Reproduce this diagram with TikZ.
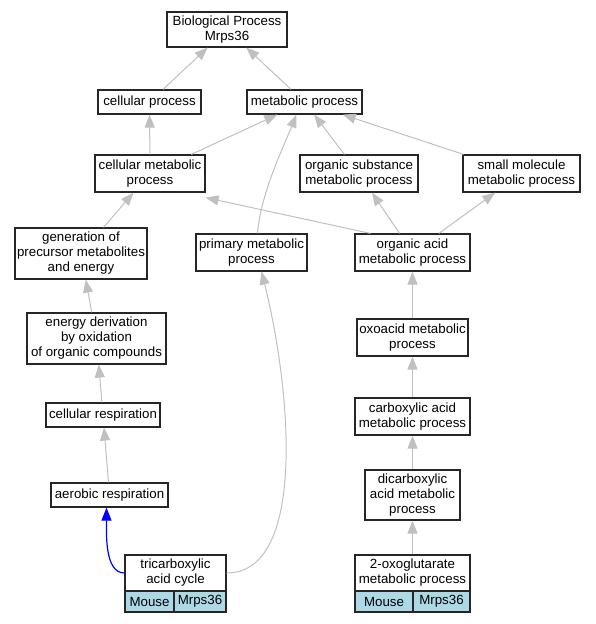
\documentclass[tikz,border=0pt]{standalone}
\usepackage{fontspec}
\setmainfont{Liberation Sans}
\usetikzlibrary{arrows.meta}
\definecolor{edgegray}{HTML}{C0C0C0}
\definecolor{cellblue}{HTML}{ADD8E6}
\begin{document}
\begin{tikzpicture}[x=1pt,y=-1pt,
  box/.style={draw=black!85,line width=1.2pt,fill=white,inner sep=0pt,align=center,font=\fontsize{13.3}{15}\selectfont},
  cell/.style={box,fill=cellblue},
  isa/.style={draw=edgegray,line width=1pt,-{Triangle[length=13pt,width=10pt]}},
  hit/.style={draw=blue,line width=1.2pt,-{Triangle[length=13pt,width=10pt]}}]
\useasboundingbox (0,0) rectangle (595,624);
% nodes (center x, center y), sizes in px
\node[box,minimum width=120,minimum height=35] (bp) at (227,29.5) {Biological Process\\Mrps36};
\node[box,minimum width=103,minimum height=24] (cp) at (149.5,102) {cellular process};
\node[box,minimum width=115,minimum height=24] (mp) at (304.5,102) {metabolic process};
\node[box,minimum width=110,minimum height=37] (cm) at (150,173.5) {cellular metabolic\\process};
\node[box,minimum width=118,minimum height=37] (os) at (359,173.5) {organic substance\\metabolic process};
\node[box,minimum width=117,minimum height=37] (sm) at (521.5,173.5) {small molecule\\metabolic process};
\node[box,minimum width=132,minimum height=51] (gen) at (81,253.5) {generation of\\precursor metabolites\\and energy};
\node[box,minimum width=111,minimum height=37] (pm) at (251.5,252.5) {primary metabolic\\process};
\node[box,minimum width=115,minimum height=37] (oa) at (412.5,252.5) {organic acid\\metabolic process};
\node[box,minimum width=139,minimum height=51] (en) at (96.5,338.5) {energy derivation\\by oxidation\\of organic compounds};
\node[box,minimum width=111,minimum height=37] (ox) at (412.5,337.5) {oxoacid metabolic\\process};
\node[box,minimum width=114,minimum height=24] (cr) at (103,415) {cellular respiration};
\node[box,minimum width=115,minimum height=37] (ca) at (412.5,416.5) {carboxylic acid\\metabolic process};
\node[box,minimum width=117,minimum height=24] (ar) at (109.5,495) {aerobic respiration};
\node[box,minimum width=95,minimum height=50] (dc) at (412.5,495) {dicarboxylic\\acid metabolic\\process};
% annotated leaves
\node[box,minimum width=101,minimum height=36] (tca) at (175.5,573) {tricarboxylic\\acid cycle};
\node[cell,minimum width=49,minimum height=21] (tcam) at (149.5,601.5) {Mouse};
\node[cell,minimum width=52,minimum height=21] (tcag) at (200,601.5) {Mrps36};
\node[box,minimum width=115,minimum height=36] (og) at (412.5,573) {2-oxoglutarate\\metabolic process};
\node[cell,minimum width=58,minimum height=21] (ogm) at (384,601.5) {Mouse};
\node[cell,minimum width=57,minimum height=21] (ogg) at (441.5,601.5) {Mrps36};
% edges
\draw[isa] (cp) -- (bp);
\draw[isa] (mp) -- (bp);
\draw[isa] (cm) -- (cp);
\draw[isa] (cm) -- (mp);
\draw[isa] (os) -- (mp);
\draw[isa] (sm) -- (mp);
\draw[isa] ([xshift=6]pm.north) .. controls +(3,-40) and +(-12,30) .. ([xshift=-8]mp.south);
\draw[isa] (gen) -- (cm);
\draw[isa] ([xshift=16]oa.north west) -- ([yshift=-5]cm.south east);
\draw[isa] (oa) -- (os);
\draw[isa] (oa) -- (sm);
\draw[isa] (en) -- (gen);
\draw[isa] (cr) -- (en);
\draw[isa] (ar) -- (cr);
\draw[isa] (ox) -- (oa);
\draw[isa] (ca) -- (ox);
\draw[isa] (dc) -- (ca);
\draw[isa] (og) -- (dc);
\draw[hit] (tca.west) .. controls +(-20,0) and +(0,25) .. ([xshift=-3]ar.south);
\draw[isa] (tca.east) .. controls +(80,0) and +(30,120) .. ([xshift=10]pm.south);
\end{tikzpicture}
\end{document}
